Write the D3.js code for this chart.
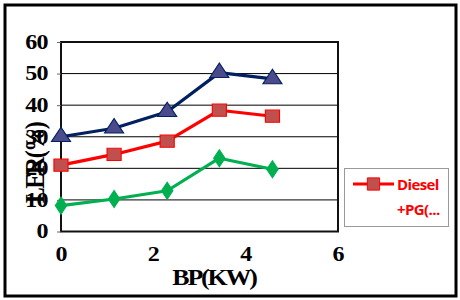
<!DOCTYPE html>
<html>
<head>
<meta charset="utf-8">
<script src="https://cdn.jsdelivr.net/npm/d3@7"></script>
<style>
  body { margin: 0; background: #fff; }
  svg { display: block; }
</style>
</head>
<body>
<div id="chart"></div>
<script>
const bp = [0, 1.15, 2.3, 3.43, 4.58]
const dieselPg = [21.0, 24.4, 28.6, 38.4, 36.5]
const upperSeries = [30.0, 32.7, 37.9, 50.3, 48.3]
const lowerSeries = [8.2, 10.3, 12.9, 23.2, 19.7]
const xTicks = [0, 2, 4, 6]
const yTicks = [0, 10, 20, 30, 40, 50, 60]

const W = 460, H = 300
const plot = { left: 61, right: 338, top: 42, bottom: 231.5 }
const serif = '"Liberation Serif", "Times New Roman", serif'
const stretch = 1.2

const svg = d3.select('#chart').append('svg')
    .attr('width', W).attr('height', H)

// outer frame
svg.append('rect')
    .attr('x', 5).attr('y', 5).attr('width', 451).attr('height', 291)
    .attr('fill', '#fff').attr('stroke', '#000').attr('stroke-width', 3)

const x = d3.scaleLinear().domain([0, 6]).range([plot.left, plot.right])
const y = d3.scaleLinear().domain([0, 60]).range([plot.bottom, plot.top])

// grid
svg.append('g')
    .selectAll('line')
    .data(yTicks.filter(d => d > 0 && d < 60))
    .enter().append('line')
    .attr('x1', plot.left).attr('x2', plot.right)
    .attr('y1', d => y(d)).attr('y2', d => y(d))
    .attr('stroke', '#000').attr('stroke-width', 1)

// plot frame
svg.append('rect')
    .attr('x', plot.left).attr('y', plot.top)
    .attr('width', plot.right - plot.left).attr('height', plot.bottom - plot.top)
    .attr('fill', 'none').attr('stroke', '#111').attr('stroke-width', 2)

// y axis (labels are stretched wide like the source image)
const yAxis = svg.append('g')
    .attr('transform', `translate(${plot.left},0)`)
    .call(d3.axisLeft(y).tickValues(yTicks).tickFormat(d3.format('d')).tickSize(4).tickPadding(2))
yAxis.select('.domain').remove()
yAxis.selectAll('line').attr('stroke', '#666')
yAxis.selectAll('text')
    .attr('x', 0)
    .attr('transform', `translate(-13,0) scale(${stretch},1)`)
    .style('font-family', serif).style('font-weight', 'bold').style('font-size', '20px')
    .attr('fill', '#000')
    .attr('letter-spacing', -0.5)

// x axis
const xAxis = svg.append('g')
    .attr('transform', `translate(0,${plot.bottom})`)
    .call(d3.axisBottom(x).tickValues(xTicks).tickFormat(d3.format('d')).tickSize(0).tickPadding(15))
xAxis.select('.domain').remove()
xAxis.selectAll('text')
    .attr('transform', `scale(${stretch},1)`)
    .style('font-family', serif).style('font-weight', 'bold').style('font-size', '20px')
    .attr('fill', '#000')

// axis titles
svg.append('text')
    .attr('transform', `translate(214,285) scale(1.08,1)`)
    .attr('text-anchor', 'middle')
    .style('font-family', serif).style('font-weight', 'bold').style('font-size', '24px')
    .attr('letter-spacing', -2)
    .text('BP(KW)')

svg.append('text')
    .attr('transform', 'translate(44,163) rotate(-90) scale(1,1.15)')
    .attr('text-anchor', 'middle')
    .style('font-family', serif).style('font-weight', 'bold').style('font-size', '24px')
    .attr('letter-spacing', -1.5)
    .text('LER(%)')

const line = d3.line().x((d, i) => x(bp[i])).y(d => y(d))

// series
const series = [
    { values: upperSeries, stroke: '#002060', fill: '#4b4a8a', symbol: d3.symbolTriangle, size: 120 },
    { values: dieselPg, stroke: '#ff0000', fill: '#c0504d', symbol: d3.symbolSquare, size: 150 },
    { values: lowerSeries, stroke: '#00b050', fill: '#00b050', symbol: d3.symbolDiamond, size: 85 }
]

series.forEach(s => {
    svg.append('path')
        .datum(s.values)
        .attr('d', line)
        .attr('fill', 'none')
        .attr('stroke', s.stroke)
        .attr('stroke-width', 3.2)
        .attr('stroke-linejoin', 'round')
    svg.append('g')
        .selectAll('path')
        .data(s.values)
        .enter().append('path')
        .attr('transform', (d, i) => `translate(${x(bp[i])},${y(d)}) scale(1.15,1)`)
        .attr('d', d3.symbol().type(s.symbol).size(s.size))
        .attr('fill', s.fill)
        .attr('stroke', s.stroke)
        .attr('stroke-width', 1)
})

// legend
const legend = svg.append('g')
legend.append('rect')
    .attr('x', 344.5).attr('y', 168.5).attr('width', 104).attr('height', 58)
    .attr('fill', '#fff').attr('stroke', '#999').attr('stroke-width', 1)
legend.append('line')
    .attr('x1', 353).attr('x2', 394).attr('y1', 184).attr('y2', 184)
    .attr('stroke', '#ff0000').attr('stroke-width', 3.2)
legend.append('path')
    .attr('transform', 'translate(373.5,184)')
    .attr('d', d3.symbol().type(d3.symbolSquare).size(150))
    .attr('fill', '#c0504d').attr('stroke', '#ff0000')
legend.selectAll('text.lbl')
    .data(['Diesel', '+PG(...'])
    .enter().append('text')
    .attr('class', 'lbl')
    .attr('x', 397).attr('y', (d, i) => 190 + i * 25)
    .style('font-family', '"Open Sans", sans-serif')
    .style('font-weight', 'bold').style('font-size', '15px')
    .attr('letter-spacing', -0.6)
    .attr('fill', '#ff0000')
    .text(d => d)
</script>
</body>
</html>
